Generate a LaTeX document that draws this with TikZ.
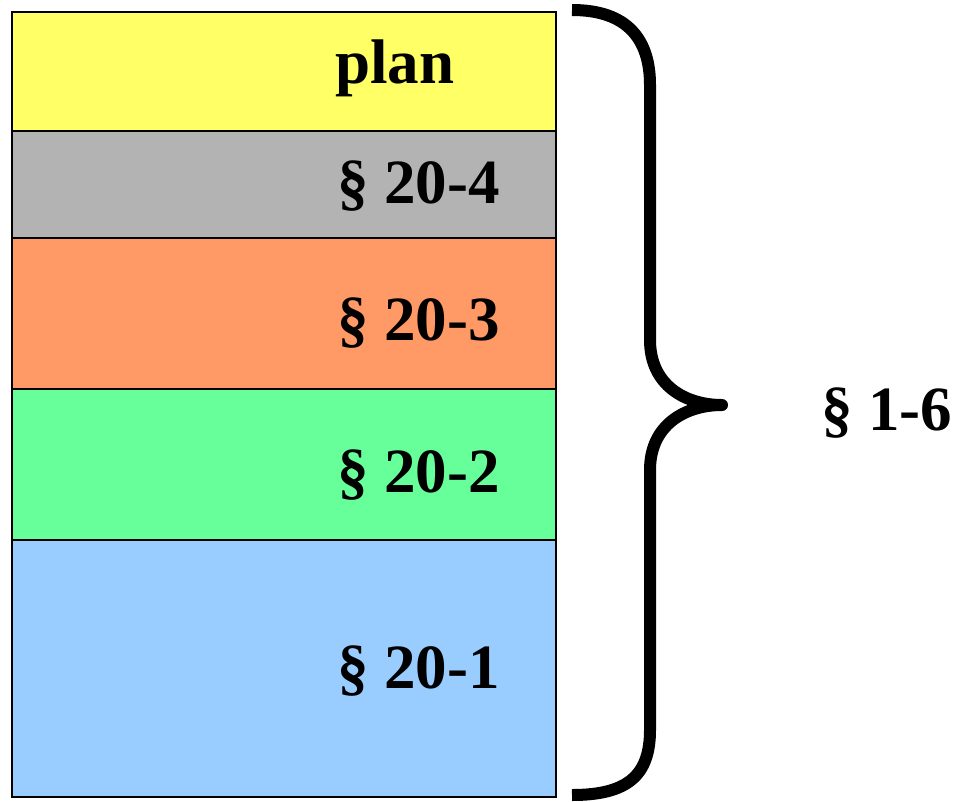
\documentclass[tikz,border=0pt]{standalone}
\usepackage{fontspec}
\setmainfont{Liberation Serif}
\usetikzlibrary{positioning}

\definecolor{planyellow}{HTML}{FFFF66}
\definecolor{partgray}{HTML}{B3B3B3}
\definecolor{partorange}{HTML}{FF9966}
\definecolor{partgreen}{HTML}{66FF99}
\definecolor{partblue}{HTML}{99CCFF}

\begin{document}
\begin{tikzpicture}[x=1pt,y=-1pt,
    layer/.style={draw=black, line width=1.5pt},
    tag/.style={inner sep=0pt, anchor=base west, font=\fontsize{63}{70}\selectfont\bfseries},
    brace/.style={line width=12pt, line join=round}]
  \useasboundingbox (0,0) rectangle (955,801);

  % stacked layers
  \draw[layer, fill=planyellow] (12,12)  rectangle (556,131);
  \draw[layer, fill=partgray]   (12,131) rectangle (556,238);
  \draw[layer, fill=partorange] (12,238) rectangle (556,389);
  \draw[layer, fill=partgreen]  (12,389) rectangle (556,540);
  \draw[layer, fill=partblue]   (12,540) rectangle (556,797);
  \draw[line width=2.5pt] (12,12) rectangle (556,797);

  \node[tag] (plan) at (335,83)  {plan};
  \node[tag] (p4)   at (337,203) {§ 20-4};
  \node[tag] (p3)   at (337,340) {§ 20-3};
  \node[tag] (p2)   at (337,492) {§ 20-2};
  \node[tag] (p1)   at (337,688) {§ 20-1};

  % brace over all parts
  \coordinate (tip) at (722,405);
  \draw[brace] (572,10) .. controls (628,10) and (650,40) .. (650,85)
      -- (650,340) .. controls (650,385) and (685,405) .. (tip)
      .. controls (685,405) and (650,425) .. (650,470)
      -- (650,730) .. controls (650,775) and (628,795) .. (572,795);
  \node[tag] (all) at (821,430) {§ 1-6};
\end{tikzpicture}
\end{document}
